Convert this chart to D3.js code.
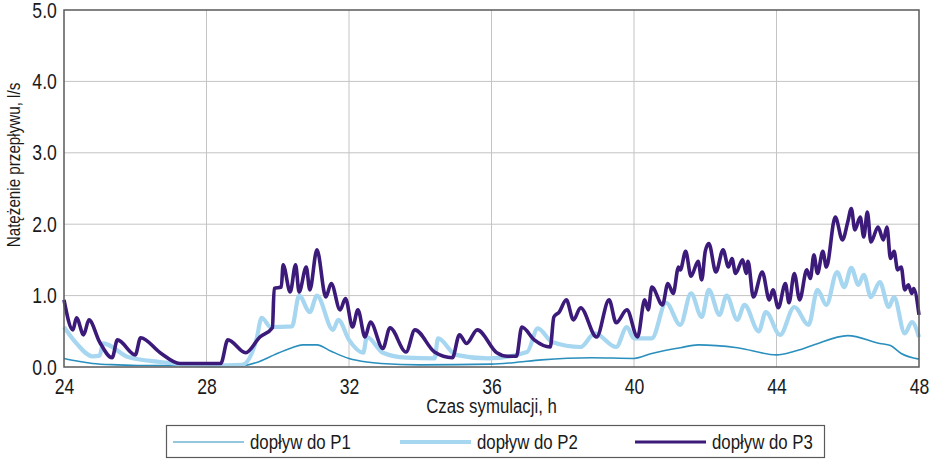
<!DOCTYPE html>
<html>
<head>
<meta charset="utf-8">
<script src="https://cdn.jsdelivr.net/npm/d3@7"></script>
<style>
  body { margin: 0; background: #fff; }
  text { font-family: 'Liberation Sans', Arial, sans-serif; fill: #1a1a1a; }
</style>
</head>
<body>
<script>
// chart values (hours of simulation, flow in l/s)
const yTicks = [0, 1, 2, 3, 4, 5]
const xTicks = [24, 28, 32, 36, 40, 44, 48]

const seriesNames = ['dopływ do P1', 'dopływ do P2', 'dopływ do P3']

const p1Hours = [24, 24.4, 24.8, 25.5, 26.2, 29.0, 29.5, 29.9, 30.4, 30.7, 31.1, 31.5, 32.0, 32.5, 32.9, 34, 36, 36.6,
  37.4, 38.8, 40.0, 40.5, 41.3, 41.8, 42.9, 44.0, 44.5, 45.0, 46.0, 46.9, 47.2, 47.5, 48]
const p1Flow = [0.12, 0.08, 0.05, 0.03, 0.02, 0.02, 0.08, 0.17, 0.27, 0.31, 0.31, 0.22, 0.12, 0.07, 0.05, 0.03, 0.04, 0.06,
  0.10, 0.13, 0.12, 0.19, 0.27, 0.31, 0.27, 0.17, 0.22, 0.30, 0.44, 0.33, 0.30, 0.19, 0.11]

const p2Hours = [24, 24.35, 24.8, 25.0, 25.1, 25.8, 26.7, 28.1, 29.0, 29.4, 29.55, 29.8, 30.4, 30.6, 30.9, 31.1, 31.55,
  31.7, 32.0, 32.4, 32.5, 32.95, 33.6, 34.4, 34.5, 35.0, 35.9, 37.0, 37.3, 37.7, 38.5, 38.9, 39.5, 39.8, 40.0, 40.5,
  40.9, 41.3, 41.6, 41.9, 42.1, 42.4, 42.6, 42.9, 43.1, 43.5, 43.7, 44.1, 44.5, 44.9, 45.15, 45.4, 45.7, 45.9, 46.1,
  46.3, 46.45, 46.65, 46.9, 47.15, 47.3, 47.6, 47.8, 48]
const p2Flow = [0.56, 0.33, 0.15, 0.16, 0.33, 0.14, 0.07, 0.02, 0.03, 0.38, 0.69, 0.56, 0.57, 1.0, 0.77, 1.0, 0.52,
  0.66, 0.38, 0.2, 0.42, 0.2, 0.13, 0.12, 0.4, 0.17, 0.12, 0.21, 0.54, 0.35, 0.28, 0.47, 0.28, 0.56, 0.4, 0.4,
  0.9, 0.59, 1.03, 0.7, 1.08, 0.73, 1.0, 0.66, 0.87, 0.5, 0.77, 0.45, 0.84, 0.59, 1.08, 0.87, 1.33, 1.12, 1.39,
  1.15, 1.29, 0.98, 1.19, 0.84, 0.98, 0.47, 0.63, 0.42]

const p3Hours = [24, 24.25, 24.35, 24.55, 24.7, 25.0, 25.35, 25.5, 26.0, 26.15, 26.7, 27.25, 28.4, 28.6, 29.1, 29.5,
  29.85, 29.9, 30.1, 30.15, 30.35, 30.5, 30.6, 30.8, 30.9, 31.1, 31.35, 31.5, 31.75, 31.9, 32.1, 32.25, 32.45, 32.6,
  32.95, 33.15, 33.6, 33.85, 34.4, 34.9, 35.1, 35.3, 35.6, 36.15, 36.45, 36.7, 36.85, 37.2, 37.65, 37.75, 37.9, 38.1,
  38.3, 38.5, 38.95, 39.3, 39.5, 39.8, 40.1, 40.3, 40.4, 40.5, 40.8, 40.95, 41.1, 41.25, 41.3, 41.45, 41.6, 41.8,
  41.9, 42.0, 42.1, 42.3, 42.5, 42.65, 42.75, 42.85, 43.05, 43.15, 43.2, 43.35, 43.6, 43.8, 43.9, 44.05, 44.25,
  44.35, 44.5, 44.65, 44.85, 44.95, 45.05, 45.15, 45.3, 45.4, 45.65, 45.85, 46.0, 46.1, 46.2, 46.35, 46.45, 46.55,
  46.65, 46.85, 47.0, 47.1, 47.2, 47.3, 47.4, 47.5, 47.6, 47.7, 47.8, 47.85, 48]
const p3Flow = [0.94, 0.52, 0.69, 0.45, 0.66, 0.35, 0.13, 0.38, 0.17, 0.41, 0.2, 0.05, 0.05, 0.38, 0.2, 0.42,
  0.55, 1.1, 1.12, 1.43, 1.05, 1.43, 1.05, 1.4, 1.08, 1.64, 0.98, 1.17, 0.8, 0.96, 0.56, 0.8, 0.42, 0.63,
  0.26, 0.55, 0.21, 0.52, 0.21, 0.13, 0.45, 0.33, 0.52, 0.2, 0.15, 0.15, 0.56, 0.38, 0.28, 0.7, 0.77, 0.94,
  0.66, 0.83, 0.42, 0.94, 0.62, 0.8, 0.42, 0.94, 0.8, 1.12, 0.87, 1.17, 1.03, 1.4, 1.36, 1.62, 1.27, 1.48,
  1.22, 1.62, 1.73, 1.33, 1.64, 1.4, 1.52, 1.31, 1.5, 1.31, 1.48, 0.98, 1.33, 0.94, 1.08, 0.83, 1.17,
  0.9, 1.31, 0.94, 1.36, 1.24, 1.57, 1.31, 1.62, 1.4, 2.1, 1.78, 2.03, 2.22, 1.92, 2.1, 1.82, 2.17,
  1.75, 1.96, 1.78, 1.96, 1.52, 1.62, 1.36, 1.4, 1.08, 1.15, 1.03, 1.1, 0.73]

// measurements for the plot
let m = {
  width: 938,
  height: 460,
  left: 64,
  right: 919,
  top: 10,
  bottom: 367,
  squeeze: 0.8, // narrow lettering, like a condensed face
}

let svg = d3.select('body')
  .append('svg')
  .attr('width', m.width)
  .attr('height', m.height)

let xScale = d3.scaleLinear()
  .domain([24, 48])
  .range([m.left, m.right])

let yScale = d3.scaleLinear()
  .domain([0, 5])
  .range([m.bottom, m.top])

// grid
svg.append('g')
  .selectAll('line')
  .data(yTicks.slice(1, -1))
  .enter()
  .append('line')
    .attr('x1', m.left).attr('x2', m.right)
    .attr('y1', function(d) { return yScale(d) })
    .attr('y2', function(d) { return yScale(d) })
    .attr('stroke', '#c4c4c4')
    .attr('stroke-width', 1)

svg.append('g')
  .selectAll('line')
  .data(xTicks.slice(1, -1))
  .enter()
  .append('line')
    .attr('y1', m.top).attr('y2', m.bottom)
    .attr('x1', function(d) { return xScale(d) })
    .attr('x2', function(d) { return xScale(d) })
    .attr('stroke', '#c4c4c4')
    .attr('stroke-width', 1)

// series lines
let series = [
  { hours: p1Hours, flow: p1Flow, color: '#2a8fbd', width: 1.6 },
  { hours: p2Hours, flow: p2Flow, color: '#a6d6f0', width: 4.2 },
  { hours: p3Hours, flow: p3Flow, color: '#3b1a7a', width: 3.6 },
]

let line = d3.line()
  .x(function(d) { return xScale(d[0]) })
  .y(function(d) { return yScale(d[1]) })
  .curve(d3.curveMonotoneX)

series.forEach(function(s) {
  svg.append('path')
    .datum(d3.zip(s.hours, s.flow))
    .attr('d', line)
    .attr('fill', 'none')
    .attr('stroke', s.color)
    .attr('stroke-width', s.width)
    .attr('stroke-linejoin', 'round')
})

// frame
svg.append('rect')
  .attr('x', m.left).attr('y', m.top)
  .attr('width', m.right - m.left)
  .attr('height', m.bottom - m.top)
  .attr('fill', 'none')
  .attr('stroke', '#5a5a5a')
  .attr('stroke-width', 1.5)

// axes, just for the tick labels
let xAxis = d3.axisBottom(xScale).tickValues(xTicks).tickSize(0).tickPadding(11)
  .tickFormat(d3.format('d'))
let yAxis = d3.axisLeft(yScale).tickValues(yTicks).tickSize(0).tickPadding(9)
  .tickFormat(d3.format('.1f'))

svg.append('g')
  .attr('transform', 'translate(0,' + m.bottom + ')')
  .call(xAxis)
  .call(function(g) { g.select('.domain').remove() })
  .selectAll('text')
    .attr('font-size', 22)
    .attr('font-family', null)
    .attr('transform', 'scale(' + m.squeeze + ',1)')

svg.append('g')
  .attr('transform', 'translate(' + m.left + ',0)')
  .call(yAxis)
  .call(function(g) { g.select('.domain').remove() })
  .selectAll('text')
    .attr('font-size', 22)
    .attr('font-family', null)
    .attr('transform', 'scale(' + m.squeeze + ',1)')

svg.selectAll('.tick text').attr('fill', '#1a1a1a')

// axis titles
svg.append('text')
  .attr('transform', 'translate(' + ((m.left + m.right) / 2) + ',413) scale(' + m.squeeze + ',1)')
  .attr('text-anchor', 'middle')
  .attr('font-size', 21)
  .text('Czas symulacji, h')

svg.append('text')
  .attr('transform', 'translate(20,165) rotate(-90) scale(' + m.squeeze + ',1)')
  .attr('text-anchor', 'middle')
  .attr('font-size', 19)
  .text('Natężenie przepływu, l/s')

// legend
let legend = svg.append('g')

legend.append('rect')
  .attr('x', 166.5).attr('y', 425.5)
  .attr('width', 658).attr('height', 32)
  .attr('fill', '#fff')
  .attr('stroke', '#5a5a5a')
  .attr('stroke-width', 1.2)

let legendX = [173, 400, 635]

series.forEach(function(s, i) {
  legend.append('line')
    .attr('x1', legendX[i]).attr('x2', legendX[i] + 71)
    .attr('y1', 442).attr('y2', 442)
    .attr('stroke', s.color)
    .attr('stroke-width', s.width - 0.4)
  legend.append('text')
    .attr('transform', 'translate(' + (legendX[i] + 77) + ',449) scale(' + m.squeeze + ',1)')
    .attr('font-size', 21)
    .text(seriesNames[i])
})
</script>
</body>
</html>
